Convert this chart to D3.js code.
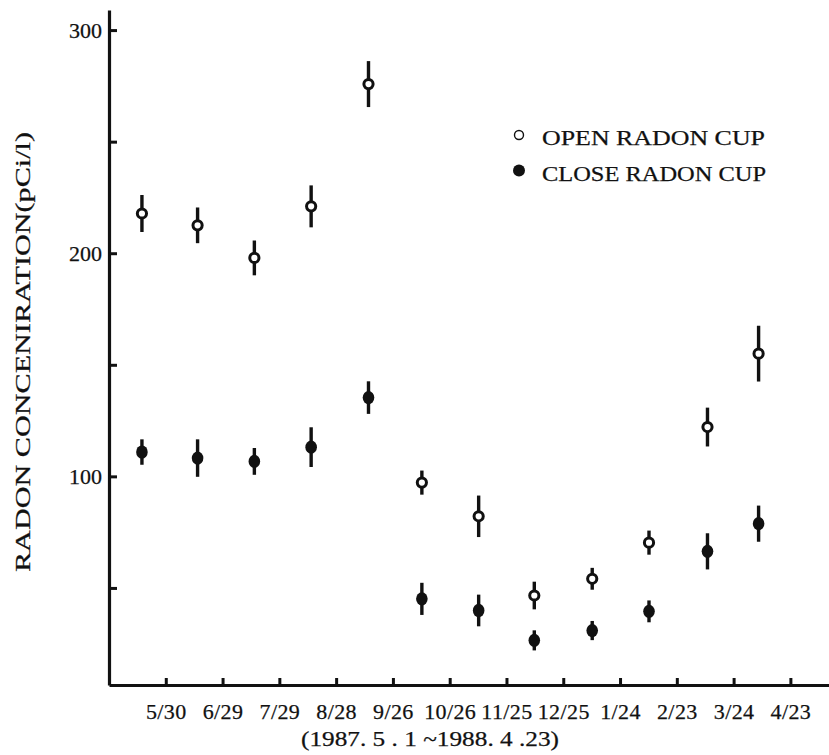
<!DOCTYPE html>
<html>
<head>
<meta charset="utf-8">
<script src="https://cdn.jsdelivr.net/npm/d3@7"></script>
<style>
  body { margin: 0; background: #fff; }
  text { font-family: "Liberation Serif", "DejaVu Serif", serif; fill: #111; stroke: #111; stroke-width: 0.25px; }
</style>
</head>
<body>
<div id="chart"></div>
<script>
// sampling periods, in months from 1987-05-01 (tick 0 = y axis)
var samplePos = [0.58, 1.56, 2.56, 3.56, 4.57, 5.51, 6.51, 7.49, 8.51, 9.51, 10.54, 11.44];
var openCup  = [217.8, 212.5, 197.9, 221.0, 275.8, 97.2, 82.1, 46.6, 54.1, 70.3, 122.1, 155.0];
var openErr  = [8.3, 8.0, 7.8, 9.4, 10.3, 5.4, 9.3, 6.2, 4.9, 5.4, 8.7, 12.5];
var closeCup = [110.9, 108.2, 106.7, 113.1, 135.3, 45.1, 39.9, 26.5, 30.9, 39.5, 66.4, 78.8];
var closeErr = [5.7, 8.4, 6.0, 8.9, 7.3, 7.2, 7.1, 4.5, 4.3, 4.9, 8.1, 8.1];
var xTickLabels = ["5/30", "6/29", "7/29", "8/28", "9/26", "10/26", "11/25", "12/25", "1/24", "2/23", "3/24", "4/23"];
var yTicks = [50, 100, 150, 200, 250, 300];
var yLabelled = [100, 200, 300];

var W = 829, H = 755;

var svg = d3.select("#chart").append("svg")
    .attr("width", W)
    .attr("height", H);

var x = d3.scaleLinear().domain([0, 12.68]).range([109, 829]);
var y = d3.scaleLinear().domain([6.5, 309]).range([685, 10]);

// x axis, ticks pointing up into the plot
var xAxis = d3.axisBottom(x)
    .tickValues(d3.range(1, 13))
    .tickSizeInner(-7)
    .tickSizeOuter(0)
    .tickPadding(18)
    .tickFormat(function(d){ return xTickLabels[d - 1]; });

var gx = svg.append("g")
    .attr("transform", "translate(0," + y.range()[0] + ")")
    .call(xAxis)
    .attr("font-family", null)
    .attr("font-size", null);
gx.select(".domain").attr("stroke", "#111").attr("stroke-width", 3.2);
gx.selectAll(".tick line").attr("stroke", "#111").attr("stroke-width", 3);
gx.selectAll(".tick text")
    .style("font-size", "22px")
    .attr("letter-spacing", "0.4px")
    .attr("fill", "#111");

// y axis, ticks pointing right
var yAxis = d3.axisLeft(y)
    .tickValues(yTicks)
    .tickSizeInner(-8)
    .tickSizeOuter(0)
    .tickPadding(7)
    .tickFormat(function(d){ return yLabelled.indexOf(d) >= 0 ? d : ""; });

var gy = svg.append("g")
    .attr("transform", "translate(" + x(0) + ",0)")
    .call(yAxis)
    .attr("font-family", null)
    .attr("font-size", null);
gy.select(".domain").attr("stroke", "#111").attr("stroke-width", 3.2);
gy.selectAll(".tick line").attr("stroke", "#111").attr("stroke-width", 3);
gy.selectAll(".tick text")
    .style("font-size", "22px")
    .attr("fill", "#111");

// axis titles
svg.append("text")
    .attr("text-anchor", "middle")
    .attr("transform", "translate(30,352)rotate(-90)")
    .style("font-size", "21px")
    .attr("textLength", 440)
    .attr("lengthAdjust", "spacingAndGlyphs")
    .text("RADON CONCENIRATION(pCi/l)");

svg.append("text")
    .attr("x", 430)
    .attr("y", 746)
    .attr("text-anchor", "middle")
    .style("font-size", "22px")
    .attr("textLength", 258)
    .attr("lengthAdjust", "spacingAndGlyphs")
    .text("(1987. 5 . 1 ~1988. 4 .23)");

// error bars + points
function series(vals, errs, cls){
    var g = svg.append("g").attr("class", cls);
    g.selectAll("line")
        .data(vals)
        .enter()
        .append("line")
        .attr("x1", function(d, i){ return x(samplePos[i]); })
        .attr("x2", function(d, i){ return x(samplePos[i]); })
        .attr("y1", function(d, i){ return y(d + errs[i]); })
        .attr("y2", function(d, i){ return y(d - errs[i]); })
        .attr("stroke", "#111")
        .attr("stroke-width", 3.4);
    return g;
}

series(openCup, openErr, "open").selectAll("circle")
    .data(openCup)
    .enter()
    .append("circle")
    .attr("cx", function(d, i){ return x(samplePos[i]); })
    .attr("cy", function(d){ return y(d); })
    .attr("r", 4.6)
    .attr("fill", "#fff")
    .attr("stroke", "#111")
    .attr("stroke-width", 3);

series(closeCup, closeErr, "close").selectAll("ellipse")
    .data(closeCup)
    .enter()
    .append("ellipse")
    .attr("cx", function(d, i){ return x(samplePos[i]); })
    .attr("cy", function(d){ return y(d); })
    .attr("rx", 5.8)
    .attr("ry", 6.6)
    .attr("fill", "#111");

// legend
var legend = svg.append("g");
legend.append("circle")
    .attr("cx", 519).attr("cy", 135).attr("r", 4.5)
    .attr("fill", "#fff").attr("stroke", "#111").attr("stroke-width", 1.4);
legend.append("circle")
    .attr("cx", 519).attr("cy", 170.5).attr("r", 6)
    .attr("fill", "#111");
legend.append("text")
    .attr("x", 542).attr("y", 145)
    .style("font-size", "21.5px")
    .attr("textLength", 223)
    .attr("lengthAdjust", "spacingAndGlyphs")
    .text("OPEN RADON CUP");
legend.append("text")
    .attr("x", 542).attr("y", 181)
    .style("font-size", "21.5px")
    .attr("textLength", 224)
    .attr("lengthAdjust", "spacingAndGlyphs")
    .text("CLOSE RADON CUP");
</script>
</body>
</html>
